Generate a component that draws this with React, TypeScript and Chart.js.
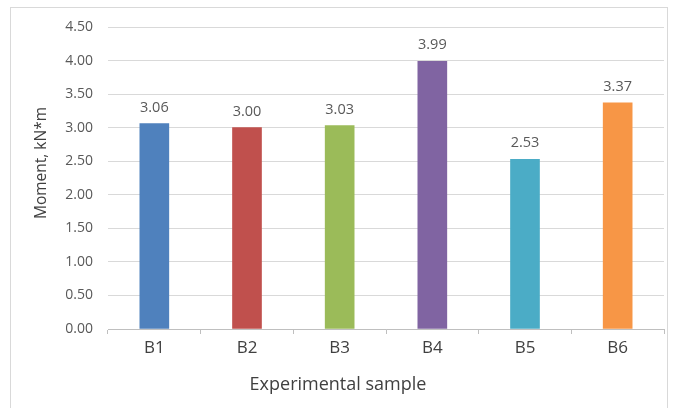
import React, { useEffect, useRef } from "react";
import { Chart, registerables } from "chart.js";

Chart.register(...registerables);

const categories = ["B1", "B2", "B3", "B4", "B5", "B6"];
const values = [3.06, 3.0, 3.03, 3.99, 2.53, 3.37];
const barColors = ["#4F81BD", "#C0504D", "#9BBB59", "#8064A2", "#4BACC6", "#F79646"];
const yTitle = "Moment, kN*m";
const xTitle = "Experimental sample";

const FONT = "'Open Sans', 'Noto Sans', sans-serif";

const valueLabels = {
  id: "valueLabels",
  afterDatasetsDraw(chart: any) {
    const ctx = chart.ctx;
    const meta = chart.getDatasetMeta(0);
    ctx.save();
    ctx.font = `14.5px ${FONT}`;
    ctx.fillStyle = "#595959";
    ctx.textAlign = "center";
    ctx.textBaseline = "bottom";
    meta.data.forEach((bar: any, i: number) => {
      ctx.fillText(values[i].toFixed(2), bar.x, bar.y - 9);
    });
    ctx.restore();
  },
};

const frame = {
  id: "frame",
  beforeDraw(chart: any) {
    const ctx = chart.ctx;
    ctx.save();
    ctx.fillStyle = "#ffffff";
    ctx.fillRect(0, 0, chart.width, chart.height);
    ctx.strokeStyle = "#d9d9d9";
    ctx.lineWidth = 1;
    ctx.strokeRect(10.5, 7.5, 657, 420);
    ctx.restore();
  },
  afterDraw(chart: any) {
    const ctx = chart.ctx;
    ctx.save();
    ctx.fillStyle = "#404040";
    ctx.textAlign = "center";
    ctx.textBaseline = "middle";
    ctx.font = `18px ${FONT}`;
    ctx.fillText(xTitle, 338, 385);
    ctx.translate(42, 163);
    ctx.rotate(-Math.PI / 2);
    ctx.font = `15.5px ${FONT}`;
    ctx.fillText(yTitle, 0, 0);
    ctx.restore();
  },
};

export default function App() {
  const ref = useRef<HTMLCanvasElement>(null);
  useEffect(() => {
    const chart = new Chart(ref.current as HTMLCanvasElement, {
      type: "bar",
      data: {
        labels: categories,
        datasets: [
          {
            data: values,
            backgroundColor: barColors,
            barThickness: 29,
          },
        ],
      },
      options: {
        animation: false,
        responsive: false,
        maintainAspectRatio: false,
        layout: { padding: { top: 27, right: 9, left: 0, bottom: 0 } },
        plugins: { legend: { display: false }, tooltip: { enabled: false } },
        scales: {
          x: {
            grid: {
              display: true,
              drawOnChartArea: false,
              drawTicks: true,
              tickLength: 5,
              color: "#bfbfbf",
              offset: true,
            },
            border: { display: true, color: "#bfbfbf" },
            ticks: {
              color: "#404040",
              font: { family: FONT, size: 17 },
              padding: 4,
            },
            afterFit(scale: any) {
              scale.height = 79;
            },
          },
          y: {
            min: 0,
            max: 4.5,
            ticks: {
              stepSize: 0.5,
              color: "#595959",
              font: { family: FONT, size: 14 },
              padding: 15,
              callback: (v: any) => Number(v).toFixed(2),
            },
            grid: { color: "#d9d9d9", drawTicks: false },
            border: { display: false },
            afterFit(scale: any) {
              scale.width = 108;
            },
          },
        },
      },
      plugins: [frame, valueLabels],
    });
    return () => chart.destroy();
  }, []);
  return (
    <div style={{ position: "absolute", left: 0, top: 0, width: 673, height: 408 }}>
      <canvas ref={ref} width={673} height={408} style={{ display: "block" }} />
    </div>
  );
}
